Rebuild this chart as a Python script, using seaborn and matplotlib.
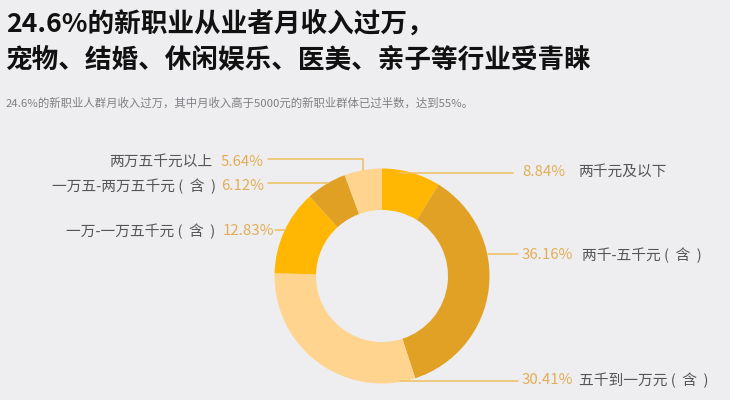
import matplotlib
matplotlib.use("Agg")
import matplotlib.pyplot as plt
import seaborn as sns

categories = ["两千元及以下", "两千-五千元 (  含  )", "五千到一万元 (  含  )", "一万-一万五千元 (  含  )", "一万五-两万五千元 (  含  )", "两万五千元以上"]
shares = [8.84, 36.16, 30.41, 12.83, 6.12, 5.64]
share_labels = ["8.84%", "36.16%", "30.41%", "12.83%", "6.12%", "5.64%"]
title_lines = ["24.6%的新职业从业者月收入过万，", "宠物、结婚、休闲娱乐、医美、亲子等行业受青睐"]
subtitle = "24.6%的新职业人群月收入过万，其中月收入高于5000元的新职业群体已过半数，达到55%。"
colors = ["#FFB703", "#E0A125", "#FFD48F", "#FFB703", "#DFA024", "#FFD48F"]

BG = "#EEEEF0"
sns.set_theme(style="white")
plt.rcParams["font.family"] = ["Noto Sans CJK SC", "DejaVu Sans"]

fig = plt.figure(figsize=(7.3, 4.0), dpi=100, facecolor=BG)
ax = fig.add_axes([0, 0, 1, 1], facecolor=BG)
palette = sns.color_palette(colors)
ax.pie(shares, colors=palette, startangle=90, counterclock=False, center=(382, 124),
       radius=107.5, frame=True, wedgeprops=dict(width=41.5, linewidth=0))
ax.set_xlim(0, 730)
ax.set_ylim(0, 400)
ax.set_aspect("equal")
ax.axis("off")

def Y(y):
    return 400 - y

LINE = "#EFC060"
PCT = "#E2AE55"
DARK = "#555558"
PCT_SIZE = 10.8
CAT_SIZE = 10.6

ax.text(6, Y(24), title_lines[0], fontsize=19.2, fontweight="black", color="#111111", va="center", ha="left")
ax.text(6, Y(60), title_lines[1], fontsize=19.2, fontweight="black", color="#111111", va="center", ha="left")
ax.text(6, Y(103), subtitle, fontsize=8.2, color="#808084", va="center", ha="left")

# right-hand labels: percentage then category
right = [(0, 522, 578, 172), (1, 522, 582, 255), (2, 522, 579, 380)]
for i, xp, xc, y in right:
    ax.text(xp, Y(y), share_labels[i], fontsize=PCT_SIZE, color=PCT, va="center", ha="left")
    ax.text(xc, Y(y), categories[i], fontsize=CAT_SIZE, color=DARK, va="center", ha="left")

# left-hand labels: category then percentage
left = [(5, 221, 212, 162), (4, 221, 216, 186), (3, 223, 215, 231)]
for i, xp, xc, y in left:
    ax.text(xp, Y(y), share_labels[i], fontsize=PCT_SIZE, color=PCT, va="center", ha="left")
    ax.text(xc, Y(y), categories[i], fontsize=CAT_SIZE, color=DARK, va="center", ha="right")

ax.plot([400, 513], [Y(173), Y(173)], color=LINE, lw=1.1)
ax.plot([488, 518], [Y(254), Y(254)], color=LINE, lw=1.1)
ax.plot([400, 518], [Y(381), Y(381)], color=LINE, lw=1.1)
ax.plot([268, 363, 363], [Y(159), Y(159), Y(170)], color=LINE, lw=1.1)
ax.plot([268, 328], [Y(183), Y(183)], color=LINE, lw=1.1)
ax.plot([275, 286], [Y(230), Y(230)], color=LINE, lw=1.1)

fig.savefig("out.png", dpi=100, facecolor=BG)
